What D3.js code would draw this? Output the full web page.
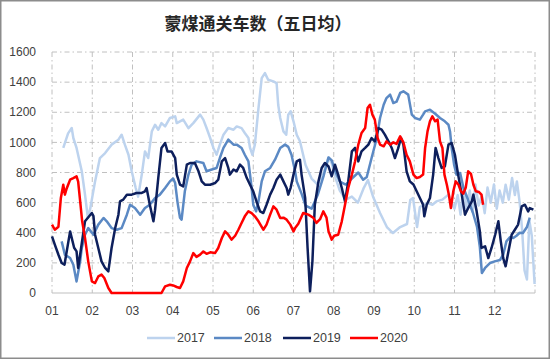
<!DOCTYPE html>
<html><head><meta charset="utf-8">
<script src="https://cdn.jsdelivr.net/npm/d3@7"></script>
<style>body{margin:0;background:#fff}svg{display:block}</style>
</head><body><svg id="c" width="550" height="360"></svg>
<script>
const title = "蒙煤通关车数（五日均）";
const monthLabels = ["01","02","03","04","05","06","07","08","09","10","11","12"];
const yTicks = [0,200,400,600,800,1000,1200,1400,1600];
const seriesNames = ["2017","2018","2019","2020"];
const seriesColors = ["#bdd3ee","#5b89c4","#0d1f5c","#ff0000"];
// [month position (0 = start of Jan), value]
const s2017 = [[0.28,963],[0.40,1060],[0.49,1095],[0.53,1029],[0.61,963],[0.74,808],[0.82,653],[0.89,500],[0.95,560],[1.07,741],[1.19,896],[1.32,929],[1.48,985],[1.65,1018],[1.73,1051],[1.81,985],[1.90,918],[1.98,808],[2.08,697],[2.14,640],[2.23,786],[2.31,940],[2.39,896],[2.48,1073],[2.56,1117],[2.64,1084],[2.72,1128],[2.81,1106],[2.93,1162],[3.06,1173],[3.10,1128],[3.26,1151],[3.39,1095],[3.51,1128],[3.68,1184],[3.76,1151],[3.84,1095],[3.93,1029],[4.01,963],[4.09,918],[4.17,985],[4.26,1051],[4.38,1095],[4.51,1084],[4.59,1106],[4.71,1095],[4.79,1062],[4.88,1029],[4.92,963],[4.98,918],[5.04,985],[5.13,1228],[5.21,1427],[5.29,1460],[5.37,1416],[5.50,1405],[5.58,1394],[5.62,1250],[5.67,1162],[5.75,1073],[5.82,1051],[5.87,1184],[5.93,1206],[6.00,1140],[6.08,1051],[6.16,1007],[6.30,850],[6.45,760],[6.60,720],[6.75,800],[6.87,900],[6.95,860],[7.05,760],[7.15,680],[7.30,620],[7.45,640],[7.60,600],[7.75,700],[7.85,750],[7.98,637],[8.15,531],[8.32,438],[8.47,398],[8.65,438],[8.82,458],[8.90,617],[8.97,630],[9.07,438],[9.14,571],[9.32,598],[9.45,586],[9.55,608],[9.70,620],[9.85,653],[9.93,600],[10.00,560],[10.08,650],[10.15,520],[10.22,700],[10.30,560],[10.38,680],[10.45,540],[10.52,720],[10.60,580],[10.68,650],[10.75,530],[10.82,700],[10.90,600],[10.98,720],[11.05,560],[11.12,680],[11.20,600],[11.27,719],[11.35,620],[11.43,763],[11.50,650],[11.55,741],[11.62,600],[11.68,420],[11.74,150],[11.80,90],[11.86,480],[11.92,380],[11.99,60]];
const s2018 = [[0.24,343],[0.32,254],[0.45,232],[0.53,188],[0.61,77],[0.70,210],[0.74,299],[0.82,387],[0.90,431],[1.03,387],[1.15,454],[1.28,498],[1.36,476],[1.48,431],[1.61,420],[1.73,431],[1.86,520],[1.94,586],[2.06,564],[2.19,520],[2.31,564],[2.43,586],[2.56,631],[2.68,653],[2.81,697],[2.93,741],[3.01,760],[3.06,730],[3.12,600],[3.18,500],[3.22,487],[3.30,675],[3.39,786],[3.47,852],[3.59,874],[3.76,863],[3.84,808],[3.97,820],[4.09,830],[4.17,896],[4.26,963],[4.38,1018],[4.51,985],[4.59,985],[4.71,963],[4.79,918],[4.88,874],[4.96,697],[5.00,586],[5.07,542],[5.13,608],[5.21,741],[5.29,808],[5.42,830],[5.54,885],[5.67,963],[5.79,985],[5.87,970],[5.95,918],[6.04,808],[6.08,741],[6.20,660],[6.30,580],[6.45,560],[6.60,650],[6.75,780],[6.87,900],[6.95,880],[7.05,800],[7.15,740],[7.30,720],[7.45,760],[7.61,800],[7.73,752],[7.82,770],[7.94,896],[8.07,1029],[8.15,1162],[8.24,1250],[8.31,1294],[8.40,1317],[8.48,1261],[8.56,1270],[8.65,1328],[8.73,1339],[8.85,1317],[8.94,1184],[9.02,1162],[9.14,1151],[9.22,1184],[9.27,1206],[9.39,1217],[9.52,1190],[9.64,1162],[9.76,1140],[9.85,1117],[9.89,1070],[9.93,963],[9.99,852],[10.05,786],[10.14,797],[10.22,700],[10.31,637],[10.46,531],[10.56,438],[10.63,305],[10.68,133],[10.76,166],[10.88,199],[11.00,210],[11.13,219],[11.21,254],[11.29,343],[11.38,372],[11.46,365],[11.54,380],[11.62,400],[11.70,398],[11.80,438],[11.87,500]];
const s2019 = [[0,376],[0.07,321],[0.16,254],[0.24,199],[0.31,188],[0.45,409],[0.55,300],[0.61,276],[0.65,166],[0.82,476],[0.99,531],[1.03,510],[1.07,387],[1.15,299],[1.23,210],[1.32,166],[1.40,144],[1.48,299],[1.57,431],[1.65,520],[1.69,608],[1.77,620],[1.86,653],[1.98,653],[2.10,664],[2.23,664],[2.31,675],[2.35,697],[2.43,586],[2.52,476],[2.56,550],[2.64,763],[2.72,963],[2.81,996],[2.87,940],[2.97,940],[3.06,896],[3.10,786],[3.18,719],[3.26,708],[3.35,852],[3.43,863],[3.55,863],[3.64,808],[3.72,741],[3.80,719],[3.93,719],[4.05,730],[4.13,752],[4.22,874],[4.30,896],[4.38,830],[4.42,786],[4.51,820],[4.59,808],[4.67,852],[4.75,830],[4.84,763],[4.92,719],[5.00,675],[5.08,608],[5.17,542],[5.25,531],[5.33,586],[5.42,653],[5.50,697],[5.58,752],[5.67,786],[5.75,741],[5.83,697],[5.87,653],[5.93,700],[6.00,786],[6.08,874],[6.16,885],[6.20,786],[6.29,631],[6.35,299],[6.41,11],[6.47,210],[6.53,586],[6.62,741],[6.70,830],[6.78,863],[6.87,840],[6.95,775],[7.03,852],[7.11,786],[7.20,697],[7.28,608],[7.36,741],[7.45,940],[7.53,963],[7.61,874],[7.69,940],[7.78,963],[7.86,985],[7.94,1029],[8.02,1007],[8.11,1095],[8.19,1085],[8.27,1051],[8.36,1007],[8.44,963],[8.52,896],[8.60,960],[8.67,1029],[8.73,985],[8.81,808],[8.89,741],[8.98,720],[9.06,675],[9.14,631],[9.22,586],[9.25,509],[9.31,586],[9.39,631],[9.47,786],[9.53,963],[9.60,896],[9.68,830],[9.76,840],[9.85,985],[9.93,996],[10.01,918],[10.09,786],[10.18,653],[10.26,520],[10.34,564],[10.43,608],[10.47,653],[10.55,542],[10.63,409],[10.67,299],[10.76,310],[10.84,232],[10.92,299],[11.01,387],[11.09,476],[11.15,343],[11.21,232],[11.27,177],[11.34,276],[11.42,387],[11.50,420],[11.58,454],[11.67,575],[11.75,586],[11.83,542],[11.87,564],[11.96,553]];
const s2020 = [[0,454],[0.07,420],[0.16,440],[0.22,631],[0.28,719],[0.32,653],[0.36,690],[0.45,752],[0.53,763],[0.61,775],[0.65,740],[0.70,608],[0.75,476],[0.82,365],[0.90,210],[0.99,77],[1.07,66],[1.15,110],[1.23,122],[1.30,100],[1.40,33],[1.48,0],[2.72,0],[2.81,44],[2.93,55],[3.01,50],[3.10,40],[3.18,33],[3.26,77],[3.35,166],[3.43,210],[3.51,265],[3.59,240],[3.68,255],[3.76,276],[3.84,260],[3.93,270],[4.05,265],[4.13,299],[4.22,365],[4.30,409],[4.38,387],[4.46,354],[4.55,380],[4.63,420],[4.71,465],[4.79,509],[4.88,542],[4.96,530],[5.04,509],[5.13,476],[5.25,420],[5.33,454],[5.42,520],[5.50,575],[5.58,553],[5.67,498],[5.75,500],[5.83,487],[5.92,454],[6.00,409],[6.04,431],[6.12,460],[6.24,531],[6.37,520],[6.49,500],[6.57,465],[6.66,490],[6.74,542],[6.82,500],[6.87,409],[6.95,354],[7.01,380],[7.11,387],[7.20,476],[7.28,586],[7.36,697],[7.45,786],[7.53,874],[7.61,985],[7.69,1062],[7.78,1095],[7.84,1228],[7.90,1250],[7.96,1184],[8.02,1151],[8.09,1029],[8.15,985],[8.24,974],[8.31,1007],[8.40,985],[8.48,1000],[8.56,990],[8.65,1040],[8.73,1000],[8.81,918],[8.89,874],[8.98,786],[9.06,763],[9.14,770],[9.22,786],[9.27,963],[9.33,1073],[9.39,1140],[9.45,1173],[9.52,1140],[9.58,1151],[9.64,1007],[9.70,963],[9.75,786],[9.81,719],[9.86,653],[9.91,564],[9.97,675],[10.03,741],[10.10,719],[10.16,675],[10.22,660],[10.28,700],[10.34,808],[10.41,790],[10.47,719],[10.53,675],[10.61,670],[10.67,653],[10.71,586]];
const seriesData = [s2017, s2018, s2019, s2020];

const svg = d3.select("#c");
svg.append("rect").attr("x",0.75).attr("y",0.75).attr("width",548.5).attr("height",357.5)
  .attr("fill","#fff").attr("stroke","#8c8c8c").attr("stroke-width",1.5);

const x = d3.scaleLinear().domain([0,12]).range([52,535]);
const y = d3.scaleLinear().domain([0,1600]).range([293,52]);
const font = "'Liberation Sans', Arial, sans-serif";

svg.append("text").attr("x",258).attr("y",30).attr("text-anchor","middle")
  .attr("font-family","'Noto Sans CJK SC', sans-serif").attr("font-weight","bold")
  .attr("font-size",17).attr("fill","#262626").text(title);

const grid = svg.append("g").attr("stroke","#c0c0c0").attr("stroke-width",1).attr("stroke-dasharray","5,3,1.5,3");
grid.selectAll("line.h").data(yTicks.filter(d=>d>0)).join("line")
  .attr("x1",x(0)).attr("x2",x(12)).attr("y1",d=>y(d)).attr("y2",d=>y(d));
grid.selectAll("line.v").data(d3.range(0,13)).join("line")
  .attr("x1",d=>x(d)).attr("x2",d=>x(d)).attr("y1",y(1600)).attr("y2",y(0));

svg.append("line").attr("x1",x(0)).attr("x2",x(12)).attr("y1",y(0)).attr("y2",y(0))
  .attr("stroke","#bfbfbf").attr("stroke-width",1.2);

svg.append("g").selectAll("text").data(yTicks).join("text")
  .attr("x",36).attr("y",d=>y(d)).attr("dy","0.35em").attr("text-anchor","end")
  .attr("font-family",font).attr("font-size",12).attr("fill","#404040").text(d=>d);

svg.append("g").selectAll("text").data(monthLabels).join("text")
  .attr("x",(d,i)=>x(i)).attr("y",315).attr("text-anchor","middle")
  .attr("font-family",font).attr("font-size",12).attr("fill","#404040").text(d=>d);

const line = d3.line().x(d=>x(d[0])).y(d=>y(d[1]));
svg.append("g").selectAll("path").data(seriesData).join("path")
  .attr("d",line).attr("fill","none").attr("stroke",(d,i)=>seriesColors[i])
  .attr("stroke-width",2.5).attr("stroke-linejoin","round");

const legX = [147,214,283,350];
const leg = svg.append("g").selectAll("g").data(seriesNames).join("g")
  .attr("transform",(d,i)=>`translate(${legX[i]},338)`);
leg.append("line").attr("x1",0).attr("x2",28).attr("stroke",(d,i)=>seriesColors[i]).attr("stroke-width",2.5);
leg.append("text").attr("x",30).attr("dy","0.35em").attr("font-family",font).attr("font-size",12.5)
  .attr("fill","#404040").text(d=>d);
</script></body></html>
